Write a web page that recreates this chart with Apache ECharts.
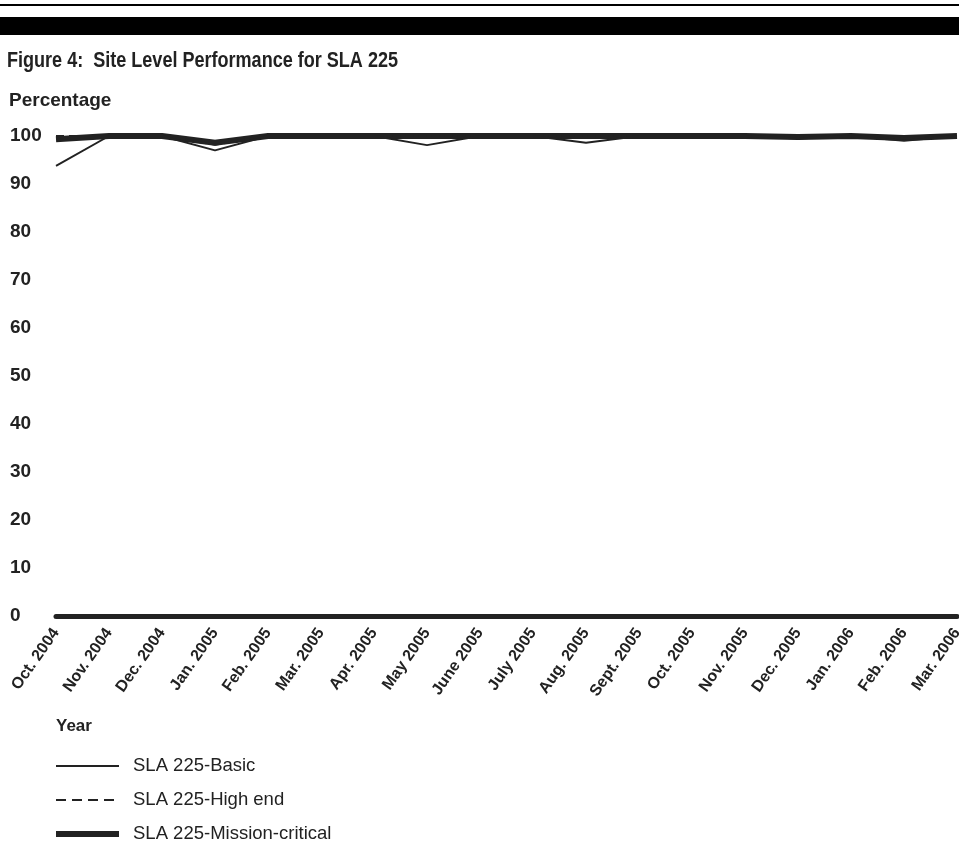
<!DOCTYPE html>
<html>
<head>
<meta charset="utf-8">
<script src="https://cdn.jsdelivr.net/npm/echarts@6/dist/echarts.min.js"></script>
<style>
  html, body { margin: 0; padding: 0; background: #fff; }
  #chart { width: 959px; height: 854px; }
</style>
</head>
<body>
<div id="chart"></div>
<script>
// months on the x axis
const months = ['Oct. 2004', 'Nov. 2004', 'Dec. 2004', 'Jan. 2005', 'Feb. 2005', 'Mar. 2005',
  'Apr. 2005', 'May 2005', 'June 2005', 'July 2005', 'Aug. 2005', 'Sept. 2005',
  'Oct. 2005', 'Nov. 2005', 'Dec. 2005', 'Jan. 2006', 'Feb. 2006', 'Mar. 2006'];

// values
const basic    = [93.8, 100, 100, 97.0, 100, 100, 100, 98.1, 100, 100, 98.6, 100, 100, 100, 99.5, 100, 99.0, 100];
const highEnd  = [100, 100, 100, 98.2, 100, 100, 100, 100, 100, 100, 100, 100, 100, 100, 99.7, 100, 99.5, 100];
const critical = [99.3, 100, 100, 98.6, 100, 100, 100, 100, 100, 100, 100, 100, 100, 100, 99.8, 100, 99.6, 100];

const yTicks = [0, 10, 20, 30, 40, 50, 60, 70, 80, 90, 100];

const font = 'Liberation Sans, Arial, Helvetica, sans-serif';
const chart = echarts.init(document.getElementById('chart'));

chart.setOption({
  animation: false,
  textStyle: { fontFamily: font },
  graphic: [
    { type: 'rect', shape: { x: 0, y: 4, width: 959, height: 2 }, style: { fill: '#000' } },
    { type: 'rect', shape: { x: 0, y: 17, width: 959, height: 18 }, style: { fill: '#000' } },
    // title is a condensed face in the original, so squeeze it a bit
    { type: 'text', x: 7, y: 50, scaleX: 0.82,
      style: { text: 'Figure 4:  Site Level Performance for SLA 225', font: 'bold 22px ' + font, fill: '#222' } },
    { type: 'text', left: 9, top: 91, style: { text: 'Percentage', font: 'bold 19px ' + font, fill: '#222' } },
    { type: 'text', left: 56, top: 718, style: { text: 'Year', font: 'bold 17px ' + font, fill: '#222' } }
  ],
  legend: {
    orient: 'vertical',
    left: 48, top: 751,
    itemWidth: 63, itemHeight: 20, itemGap: 14,
    itemStyle: { opacity: 0 },
    textStyle: { fontFamily: font, fontSize: 18.5, lineHeight: 20, color: '#222', padding: [0, 0, 0, 9] },
    data: [
      { name: 'SLA 225-Basic', lineStyle: { width: 2 } },
      { name: 'SLA 225-High end', lineStyle: { width: 2, type: [10, 6] } },
      { name: 'SLA 225-Mission-critical', lineStyle: { width: 6 } }
    ]
  },
  grid: { left: 56, right: 2, top: 136, bottom: 238, outerBoundsMode: 'none' },
  xAxis: {
    type: 'category',
    data: months,
    boundaryGap: false,
    axisLine: { lineStyle: { color: '#222', width: 5 } },
    axisTick: { show: false },
    axisLabel: { rotate: 55, interval: 0, margin: 14, fontSize: 16, fontWeight: 'bold', color: '#222', fontFamily: font }
  },
  yAxis: {
    type: 'value',
    min: 0, max: 100, interval: 10,
    axisLine: { show: false },
    axisTick: { show: false },
    splitLine: { show: false },
    axisLabel: {
      margin: 46, align: 'left', fontSize: 19, fontWeight: 'bold', color: '#222', fontFamily: font,
      formatter: v => (yTicks.includes(v) ? String(v) : '')
    }
  },
  series: [
    {
      name: 'SLA 225-Mission-critical', type: 'line', data: critical, symbol: 'none',
      lineStyle: { color: '#222', width: 6 }, itemStyle: { color: '#222' }, z: 2
    },
    {
      name: 'SLA 225-High end', type: 'line', data: highEnd, symbol: 'none',
      lineStyle: { color: '#222', width: 2, type: [8, 5] }, itemStyle: { color: '#222' }, z: 3
    },
    {
      name: 'SLA 225-Basic', type: 'line', data: basic, symbol: 'none',
      lineStyle: { color: '#222', width: 2 }, itemStyle: { color: '#222' }, z: 4
    }
  ]
});
</script>
</body>
</html>
